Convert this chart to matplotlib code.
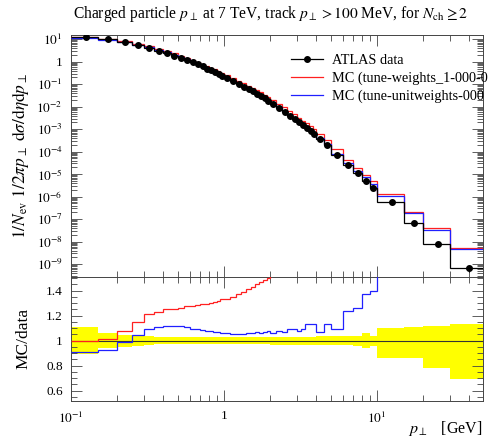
import numpy as np
import matplotlib
matplotlib.use('Agg')
import matplotlib.pyplot as plt
from matplotlib.ticker import FixedLocator, MultipleLocator, NullFormatter, FuncFormatter
from matplotlib.lines import Line2D

plt.rcParams['font.family'] = ['Liberation Serif', 'DejaVu Serif']
plt.rcParams['mathtext.fontset'] = 'stix'

# ---- data ----
edges = [0.1, 0.15, 0.2, 0.25, 0.3, 0.35, 0.4, 0.45, 0.5, 0.55, 0.6, 0.65, 0.7, 0.75,
         0.8, 0.85, 0.9, 0.95, 1.0, 1.1, 1.2, 1.3, 1.4, 1.5, 1.6, 1.7, 1.8, 1.9, 2.0,
         2.2, 2.4, 2.6, 2.8, 3.0, 3.2, 3.4, 3.6, 3.8, 4.0, 4.5, 5.0, 6.0, 7.0, 8.0,
         9.0, 10.0, 15.0, 20.0, 30.0, 50.0]

atlas_data = [12.6, 10.2, 7.41, 5.50, 4.07, 3.09, 2.40, 1.86, 1.48, 1.175, 0.933, 0.759,
              0.617, 0.501, 0.417, 0.347, 0.288, 0.240, 0.186, 0.138, 0.105, 0.0794,
              0.0617, 0.0479, 0.0372, 0.0295, 0.0234, 0.0186, 0.0135, 8.91e-3, 6.03e-3,
              4.07e-3, 2.88e-3, 2.04e-3, 1.48e-3, 1.10e-3, 8.13e-4, 6.17e-4, 3.80e-4,
              2.04e-4, 7.41e-5, 2.57e-5, 1.10e-5, 5.25e-6, 2.51e-6, 5.62e-7, 6.61e-8,
              7.94e-9, 6.61e-10]

# relative uncertainties of the data (up / down)
err_up = [0.11, 0.062, 0.048, 0.040, 0.035, 0.03, 0.03, 0.03, 0.03, 0.03, 0.03, 0.03,
          0.03, 0.03, 0.03, 0.03, 0.03, 0.03, 0.03, 0.03, 0.03, 0.03, 0.03, 0.03, 0.03,
          0.03, 0.03, 0.03, 0.033, 0.033, 0.033, 0.033, 0.033, 0.033, 0.033, 0.033,
          0.033, 0.033, 0.035, 0.035, 0.035, 0.038, 0.04, 0.06, 0.04, 0.105, 0.11,
          0.12, 0.13]
err_dn = [0.11, 0.062, 0.048, 0.040, 0.035, 0.03, 0.03, 0.03, 0.03, 0.03, 0.03, 0.03,
          0.03, 0.03, 0.03, 0.03, 0.03, 0.03, 0.03, 0.03, 0.03, 0.03, 0.03, 0.03, 0.03,
          0.03, 0.03, 0.03, 0.033, 0.033, 0.033, 0.033, 0.033, 0.033, 0.033, 0.033,
          0.033, 0.033, 0.035, 0.035, 0.035, 0.038, 0.04, 0.06, 0.04, 0.135, 0.135,
          0.22, 0.31]

# MC / data ratios
ratio_weights = [0.995, 1.01, 1.08, 1.15, 1.21, 1.23, 1.25, 1.255, 1.265, 1.275, 1.28,
                 1.285, 1.29, 1.295, 1.30, 1.31, 1.32, 1.33, 1.335, 1.35, 1.37, 1.39,
                 1.41, 1.43, 1.45, 1.47, 1.485, 1.50, 1.53, 1.55, 1.57, 1.59, 1.60, 1.62,
                 1.63, 1.64, 1.65, 1.66, 1.68, 1.70, 1.72, 1.75, 1.78, 1.85, 1.9, 2.4,
                 3.3, 5.3, 7.8]
ratio_unitweights = [0.91, 0.925, 0.99, 1.045, 1.09, 1.11, 1.115, 1.12, 1.115, 1.11,
                     1.095, 1.09, 1.085, 1.08, 1.075, 1.07, 1.07, 1.065, 1.06, 1.05,
                     1.05, 1.055, 1.06, 1.065, 1.07, 1.065, 1.07, 1.075, 1.065, 1.08,
                     1.07, 1.09, 1.09, 1.08, 1.09, 1.13, 1.13, 1.13, 1.07, 1.13, 1.09,
                     1.24, 1.26, 1.37, 1.40, 2.0, 2.95, 4.2, 7.1]

# legend labels as far as they are visible (cut by the right edge in the original)
labels = ['ATLAS data', 'MC (tune-weights_1-000-0', 'MC (tune-unitweights-000']

# ---- figure ----
W, H = 498, 443
fig = plt.figure(figsize=(W / 100, H / 100), dpi=100)
L, R = 71, 483
T_main, B_main, B_ratio = 35, 277, 400.7
ax = fig.add_axes([L / W, 1 - B_main / H, (R - L) / W, (B_main - T_main) / H])
axr = fig.add_axes([L / W, 1 - B_ratio / H, (R - L) / W, (B_ratio - B_main) / H], sharex=ax)

e = np.array(edges)
d = np.array(atlas_data)
centers = 0.5 * (e[:-1] + e[1:])
rw = np.array(ratio_weights)
ru = np.array(ratio_unitweights)
eu = np.array(err_up)
ed = np.array(err_dn)

lw = 0.9
ax.stairs(d * rw, e, baseline=None, color='#ff2020', lw=lw, zorder=3)
ax.stairs(d * ru, e, baseline=None, color='#2020ff', lw=lw, zorder=4)
ax.stairs(d, e, baseline=None, color='black', lw=0.9, zorder=5)
ax.errorbar(centers, d, yerr=[d * ed, d * eu], fmt='o', ms=4.0, color='black',
            elinewidth=0.8, capsize=0, zorder=6)

ax.set_xscale('log')
ax.set_yscale('log')
ax.set_xlim(0.1, 49.5)
ax.set_ylim(10 ** -9.57, 10 ** 1.19)

# ratio panel
axr.bar(e[:-1], eu + ed, width=np.diff(e), bottom=1 - ed, align='edge',
        color='#ffff00', edgecolor='none', zorder=1)
axr.axhline(1.0, color='#333333', lw=0.8, zorder=2)
axr.stairs(rw, e, baseline=None, color='#ff2020', lw=lw, zorder=3)
axr.stairs(ru, e, baseline=None, color='#2020ff', lw=lw, zorder=4)
axr.set_ylim(0.52, 1.51)

# ticks
def logfmt(v, pos):
    ex = int(round(np.log10(v)))
    if ex == 0:
        return '1'
    return r'$10^{%d}$' % ex

for a in (ax, axr):
    a.tick_params(which='both', direction='in', top=True, right=True, width=0.6,
                  colors='#444444', labelcolor='black', labelsize=9.5)
    a.tick_params(which='major', length=8)
    a.tick_params(which='minor', length=4)
    for s in a.spines.values():
        s.set_linewidth(0.7)
        s.set_color('#444444')

ax.yaxis.set_major_locator(FixedLocator([10.0 ** k for k in range(-9, 2)]))
ax.yaxis.set_minor_locator(FixedLocator([m * 10.0 ** k for k in range(-10, 2) for m in range(2, 10)]))
ax.yaxis.set_major_formatter(FuncFormatter(logfmt))
ax.yaxis.set_minor_formatter(NullFormatter())
ax.tick_params(axis='y', pad=6)

axr.xaxis.set_major_locator(FixedLocator([0.1, 1, 10]))
axr.xaxis.set_minor_locator(FixedLocator([m * 10.0 ** k for k in range(-1, 2) for m in range(2, 10)]))
axr.xaxis.set_major_formatter(FuncFormatter(logfmt))
axr.xaxis.set_minor_formatter(NullFormatter())
axr.tick_params(axis='x', pad=7)
plt.setp(ax.get_xticklabels(), visible=False)

axr.yaxis.set_major_locator(FixedLocator([0.6, 0.8, 1.0, 1.2, 1.4]))
axr.yaxis.set_minor_locator(MultipleLocator(0.05))
axr.yaxis.set_major_formatter(FuncFormatter(lambda v, p: ('%.1f' % v) if abs(v - 1) > 1e-6 else '1'))
axr.tick_params(axis='y', pad=6)

# labels
ax.set_ylabel(r'$1/N_{\mathrm{ev}}\ 1/2\pi p_\perp\ \mathrm{d}\sigma/\mathrm{d}\eta\mathrm{d}p_\perp$',
              fontsize=12.5)
ax.yaxis.set_label_coords(-0.097, 0.5)
axr.set_ylabel('MC/data', fontsize=12.5)
axr.yaxis.set_label_coords(-0.097, 0.5)
fig.text(R / W, 1 - 428 / H, r'$p_\perp$   [GeV]', ha='right', va='center', fontsize=11.5)

fig.text(271 / W, 1 - 14 / H,
         r'Charged particle $p_\perp$ at 7 TeV, track $p_\perp > 100$ MeV, for $N_{\mathrm{ch}} \geq 2$',
         ha='center', va='center', fontsize=11.2)

handles = [Line2D([], [], color='black', lw=0.9, marker='o', ms=4.0),
           Line2D([], [], color='#ff2020', lw=lw),
           Line2D([], [], color='#2020ff', lw=lw)]
ax.legend(handles, labels, loc='upper left', bbox_to_anchor=(284 / W, 1 - 47 / H),
          bbox_transform=fig.transFigure, frameon=False, fontsize=10.3,
          handlelength=2.25, handletextpad=0.6, labelspacing=0.32, borderpad=0)

fig.savefig('out.png', dpi=100)
